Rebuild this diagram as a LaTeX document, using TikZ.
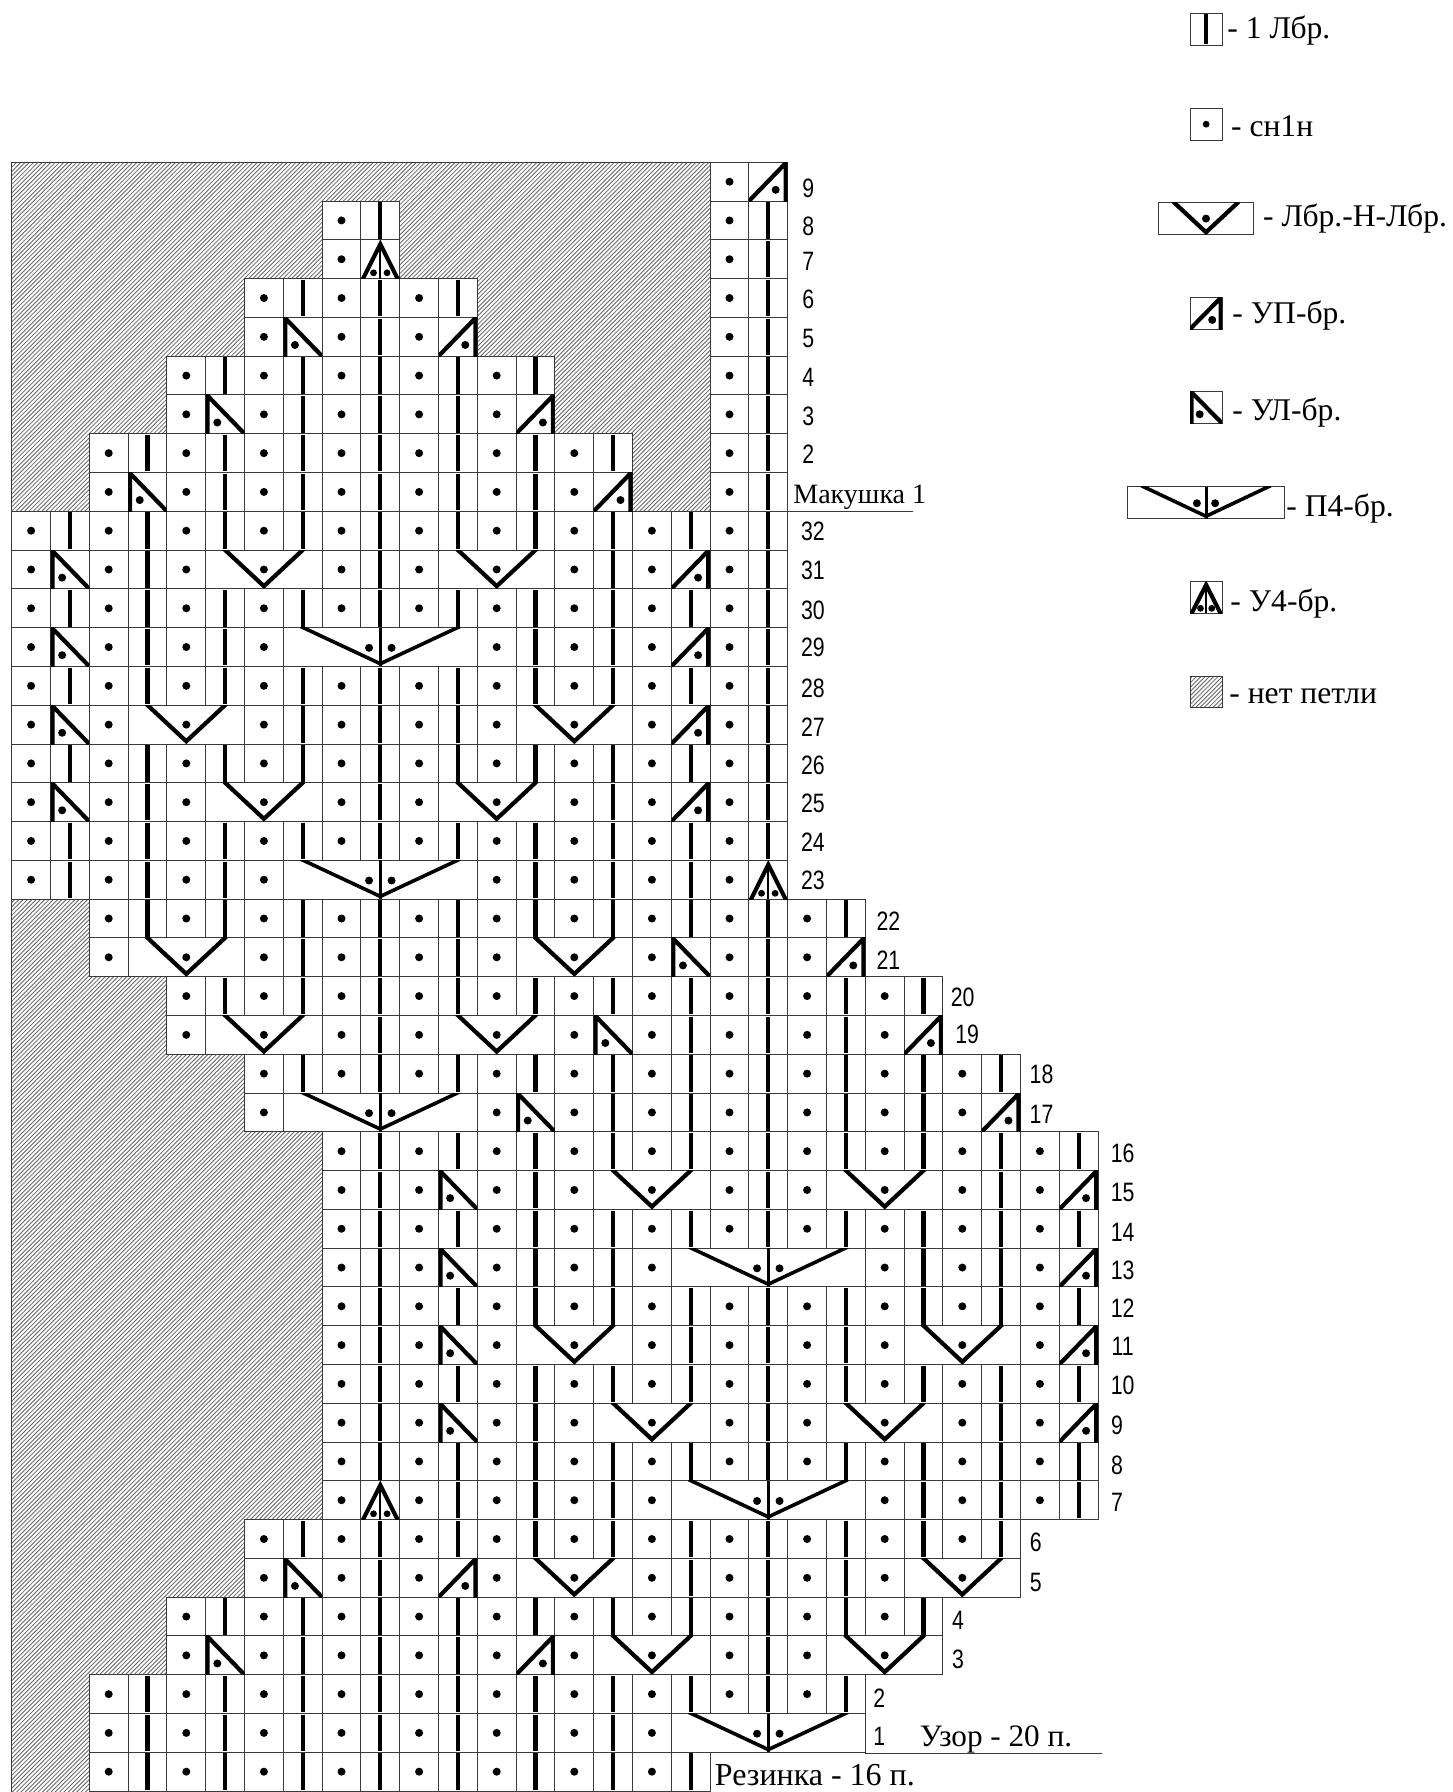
\documentclass[tikz,border=0pt]{standalone}
\usepackage{fontspec}
\setmainfont{Liberation Serif}
\newfontfamily\numfont[FakeStretch=0.8]{Liberation Sans}
\definecolor{gridc}{HTML}{3A3A3A}
\definecolor{hatchc}{HTML}{666666}
\def\xo{11.7}\def\yo{162.3}\def\cw{38.8}\def\ch{38.78}
\tikzset{
  cellbox/.style={fill=white,draw=gridc,line width=.5pt},
  stitch/.style={draw=black,line width=2.1pt,line cap=butt,line join=miter},
  thinstitch/.style={draw=black,line width=1.1pt},
  hatchline/.style={draw=hatchc,line width=.42pt},
  legtext/.style={font=\fontsize{15.8pt}{18pt}\selectfont,anchor=base west,inner sep=0pt},
  sigtext/.style={font=\fontsize{15.6pt}{18pt}\selectfont,anchor=base west,inner sep=0pt},
  rownum/.style={font=\numfont\fontsize{13.3pt}{15pt}\selectfont,inner sep=0pt},
}
% all symbols below are drawn in a unit cell: (0,0) top left, (1,1) bottom right
\newcommand\kDot[2]{\fill[black] (#1,#2) circle[radius=2pt];}
\newcommand\kSmallDot[2]{\fill[black] (#1,#2) circle[radius=1.7pt];}
\newcommand\kLine{\draw[stitch] (.5,.03)--(.5,.97);}
\newcommand\kUL{\draw[cellbox] (0,0) rectangle (1,1);
  \begin{scope}\clip (0,0) rectangle (1,1);
  \draw[stitch] (.05,1.1)--(.05,.02)--(1.02,1.02);\end{scope}\kDot{.3}{.71}}
\newcommand\kUP{\draw[cellbox] (0,0) rectangle (1,1);
  \begin{scope}\clip (0,0) rectangle (1,1);
  \draw[stitch] (.95,1.1)--(.95,.02)--(-.02,1.02);\end{scope}\kDot{.69}{.71}}
\newcommand\kUfour{\draw[cellbox] (0,0) rectangle (1,1);
  \begin{scope}\clip (0,0) rectangle (1,1);
  \draw[stitch] (.03,1.05)--(.5,.11)--(.97,1.05);
  \draw[thinstitch] (.5,.05)--(.5,1);\end{scope}\kSmallDot{.325}{.85}\kSmallDot{.675}{.85}}
\newcommand\kVee{\draw[cellbox] (0,0) rectangle (3,1);
  \begin{scope}\clip (0,-.001) rectangle (3,1);
  \draw[stitch] (.47,-.03)--(1.5,.93)--(2.53,-.03);\end{scope}\kDot{1.5}{.5}}
\newcommand\kPfour{\draw[cellbox] (0,0) rectangle (5,1);
  \begin{scope}\clip (0,0) rectangle (5,1);
  \draw[stitch,line width=1.8pt] (.45,-.03)--(2.5,.93)--(4.55,-.03);
  \draw[stitch,line width=1.5pt] (2.5,0)--(2.5,1);\end{scope}\kDot{2.21}{.52}\kDot{2.79}{.52}}
\newcommand\inCell[3]{\begin{scope}[shift={({\xo+\cw*#2},{\yo+\ch*#1})},x=19.4pt,y=-19.39pt]#3\end{scope}}
\newcommand\inLegend[3]{\begin{scope}[shift={(#1,#2)},x=16.1pt,y=-15.9pt]#3\end{scope}}
\begin{document}
\begin{tikzpicture}[x=.5pt,y=-.5pt]
\useasboundingbox (0,0) rectangle (1452,1792);
% hatched "no stitch" area
\begin{scope}
  \clip ({\xo},{\yo}) rectangle ({\xo+18*\cw},{\yo+9*\ch})
        ({\xo},{\yo+19*\ch}) rectangle ({\xo+8*\cw},1792)
        (1190,676) rectangle (1222.3,707.5);
  \draw[hatchline] \foreach \k in {-460,...,360} {({\k*4.3},1800)--({\k*4.3+1800},0)};
\end{scope}
\draw[draw=gridc,line width=.5pt] ({\xo},{\yo}) rectangle ({\xo+18*\cw},{\yo+9*\ch});
\draw[draw=gridc,line width=.5pt] ({\xo},{\yo+19*\ch}) -- ({\xo},1792);
\draw[draw=gridc,line width=.5pt] ({\xo},{\yo+19*\ch}) -- ({\xo+2*\cw},{\yo+19*\ch});
% plain rows: dot / knit line pairs
\foreach \r/\a/\b in {
  0/18/19,1/8/9,1/18/19,2/8/9,2/18/19,3/6/11,3/18/19,4/6/11,4/18/19,
  5/4/13,5/18/19,6/4/13,6/18/19,7/2/15,7/18/19,8/2/15,8/18/19,
  9/0/19,10/0/19,11/0/19,12/0/19,13/0/19,14/0/19,15/0/19,16/0/19,17/0/19,18/0/19,
  19/2/21,20/2/21,21/4/23,22/4/23,23/6/25,24/6/25,
  25/8/27,26/8/27,27/8/27,28/8/27,29/8/27,30/8/27,31/8/27,32/8/27,33/8/27,34/8/27,
  35/6/25,36/6/25,37/4/23,38/4/23,39/2/21,40/2/21,41/2/17}{
  \pgfmathtruncatemacro\np{(\b-\a+1)/2}
  \foreach \n in {1,...,\np}{
    \pgfmathtruncatemacro\c{\a+2*(\n-1)}
    \pgfmathtruncatemacro\d{\c+1}
    \inCell{\r}{\c}{\draw[cellbox] (0,0) rectangle (1,1);\kDot{.5}{.5}}
    \inCell{\r}{\d}{\draw[cellbox] (0,0) rectangle (1,1);\kLine}
  }
}
% decreases and increases
\foreach \r/\c in {4/7,6/5,8/3,10/1,12/1,14/1,16/1,20/17,22/15,24/13,26/11,28/11,30/11,32/11,36/7,38/5}{\inCell{\r}{\c}{\kUL}}
\foreach \r/\c in {0/19,4/11,6/13,8/15,10/17,12/17,14/17,16/17,20/21,22/23,24/25,26/27,28/27,30/27,32/27,36/11,38/13}{\inCell{\r}{\c}{\kUP}}
\foreach \r/\c in {2/9,18/19,34/9}{\inCell{\r}{\c}{\kUfour}}
\foreach \r/\c in {10/5,10/11,14/3,14/13,16/5,16/11,20/3,20/13,22/5,22/11,26/15,26/21,30/13,30/23,32/15,32/21,36/13,36/23,38/15,38/21}{\inCell{\r}{\c}{\kVee}}
\foreach \r/\c in {12/7,18/7,24/7,28/17,34/17,40/17}{\inCell{\r}{\c}{\kPfour}}
% row numbers (positions measured on the 1270-wide view)
\foreach \t/\x/\y [count=\i] in {
  9/707/165,8/707/198,7/707/229,6/707/262,5/707/296,4/707/330,3/707/364,2/707/397,
  32/711/465,31/711/499,30/711/534,29/711/566,28/711/602,27/711/636,26/711/669,25/711/703,24/711/737,23/711/770,
  22/777/806,21/777/840,20/842/872,19/846/905,18/911/940,17/911/975,
  16/982/1009,15/982/1043,14/982/1078,13/982/1111,12/982/1144,11/982/1178,10/982/1212,
  9/977/1247,8/977/1282,7/977/1314,6/906/1349,5/906/1384,4/838/1417,3/838/1451,2/769/1485,1/769/1519}{
  \node[rownum] (num\i) at ({\x*1.1433},{\y*1.1433}) {\t};
}
% section titles
\node[sigtext,font=\fontsize{14pt}{16pt}\selectfont] (top) at (793,503) {Макушка 1};
\coordinate (topa) at (788,511.3); \coordinate (topb) at (913,511.3);
\draw[draw=gridc,line width=.5pt] (topa)--(topb);
\node[sigtext] (patt) at (919.5,1746.7) {Узор - 20 п.};
\coordinate (patta) at (865.3,1753.3); \coordinate (pattb) at (1101.6,1753.3);
\draw[draw=gridc,line width=.5pt] (patta)--(pattb);
\node[sigtext,font=\fontsize{16pt}{18pt}\selectfont] (rib) at (714.5,1785) {Резинка - 16 п.};
% legend
\inLegend{1190}{13.3}{\draw[cellbox] (0,0) rectangle (1,1);\kLine}
\node[legtext] (l1) at (1227,38.3) {- 1 Лбр.};
\inLegend{1190}{108.3}{\draw[cellbox] (0,0) rectangle (1,1);\kSmallDot{.5}{.5}}
\node[legtext] (l2) at (1230.7,136.7) {- сн1н};
\inLegend{1158.3}{202.7}{\begin{scope}[x=15.9pt]\kVee\end{scope}}
\node[legtext] (l3) at (1262.7,226.7) {- Лбр.-Н-Лбр.};
\inLegend{1190}{297.3}{\kUP}
\node[legtext] (l4) at (1232,323.3) {- УП-бр.};
\inLegend{1190}{391.7}{\kUL}
\node[legtext] (l5) at (1232,420) {- УЛ-бр.};
\inLegend{1127.3}{486.7}{\begin{scope}[x=15.74pt]\kPfour\end{scope}}
\node[legtext] (l6) at (1286,516) {- П4-бр.};
\inLegend{1190}{581.3}{\kUfour}
\node[legtext] (l7) at (1230,611) {- У4-бр.};
\draw[draw=gridc,line width=.5pt] (1190,676) rectangle (1222.3,707.5);
\node[legtext] (l8) at (1229,703) {- нет петли};
\end{tikzpicture}
\end{document}
